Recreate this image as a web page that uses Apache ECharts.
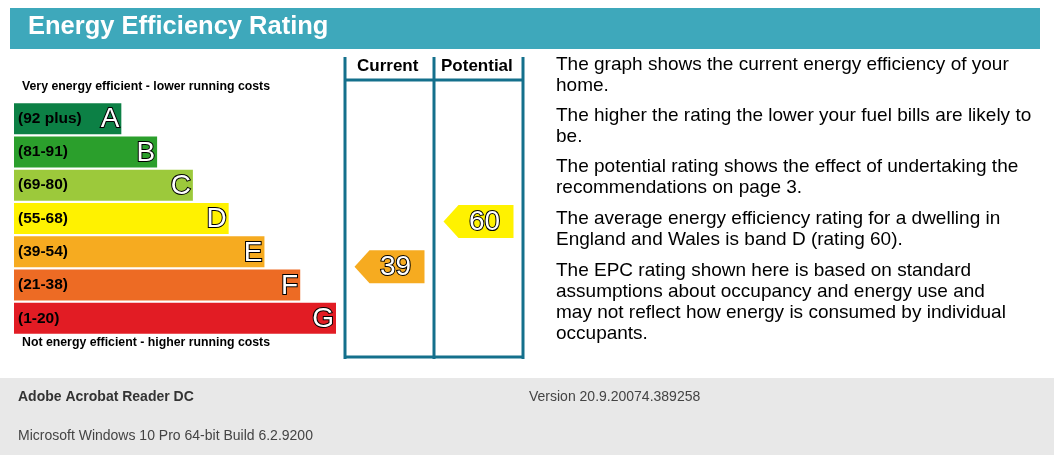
<!DOCTYPE html>
<html><head><meta charset="utf-8">
<script src="https://cdn.jsdelivr.net/npm/echarts@6/dist/echarts.min.js"></script>
<style>html,body{margin:0;padding:0;background:#fff}#c{width:1054px;height:455px}</style>
</head><body><div id="c"></div>
<script>
const bands = ['A','B','C','D','E','F','G'];
const ranges = ['(92 plus)','(81-91)','(69-80)','(55-68)','(39-54)','(21-38)','(1-20)'];
const barLengths = [3,4,5,6,7,8,9];
const bandColors = ['#0c8045','#2b9f2c','#9cc93b','#fff200','#f6ab20','#ed6b24','#e21c24'];
const columns = ['Current','Potential'];
const ratings = [39,60];
const ratingColors = ['#f6ab20','#fff200'];
const infoLines = [
 ['The graph shows the current energy efficiency of your','home.'],
 ['The higher the rating the lower your fuel bills are likely to','be.'],
 ['The potential rating shows the effect of undertaking the','recommendations on page 3.'],
 ['The average energy efficiency rating for a dwelling in','England and Wales is band D (rating 60).'],
 ['The EPC rating shown here is based on standard','assumptions about occupancy and energy use and','may not reflect how energy is consumed by individual','occupants.']
];
const paraTops = [55,106,157,209,261];

const F = 'Liberation Sans, Arial, sans-serif';
const chart = echarts.init(document.getElementById('c'));
const frame = '#14708c';
const graphic = [
 {type:'rect',shape:{x:10,y:8,width:1030,height:41},style:{fill:'#3ea8bb'}},
 {type:'text',x:28,y:14,style:{text:'Energy Efficiency Rating',fill:'#fff',font:'bold 25.5px '+F}},
 {type:'rect',shape:{x:0,y:378,width:1054,height:77},style:{fill:'#e8e8e8'}},
 {type:'text',x:18,y:390,style:{text:'Adobe Acrobat Reader DC',fill:'#333',font:'bold 14px '+F}},
 {type:'text',x:529,y:390,style:{text:'Version 20.9.20074.389258',fill:'#444',font:'14px '+F}},
 {type:'text',x:18,y:429,style:{text:'Microsoft Windows 10 Pro 64-bit Build 6.2.9200',fill:'#444',font:'14px '+F}},
 {type:'text',x:22,y:81,style:{text:'Very energy efficient - lower running costs',fill:'#000',font:'bold 12.3px '+F}},
 {type:'text',x:22,y:337,style:{text:'Not energy efficient - higher running costs',fill:'#000',font:'bold 12.3px '+F}},
 {type:'text',x:357,y:58,style:{text:'Current',fill:'#000',font:'bold 17px '+F}},
 {type:'text',x:441,y:58,style:{text:'Potential',fill:'#000',font:'bold 17px '+F}},
];
[[345,57,345,359],[434,57,434,359],[523,57,523,359],[345,80,523,80],[345,357,523,357]].forEach(l=>{
 graphic.push({type:'line',shape:{x1:l[0],y1:l[1],x2:l[2],y2:l[3]},style:{stroke:frame,lineWidth:3}});
});
infoLines.forEach((p,i)=>p.forEach((t,j)=>graphic.push({type:'text',x:556,y:paraTops[i]+j*21,style:{text:t,fill:'#000',font:'19px '+F}})));

const letterStyle = {color:'#fff',textBorderColor:'#000',textBorderWidth:2,fontSize:28,fontFamily:F};
chart.setOption({
 animation:false,
 graphic,
 grid:[{left:14,top:102,width:322,height:233},{left:345,top:102,width:178,height:233}],
 xAxis:[{type:'value',min:0,max:9,show:false,gridIndex:0},
        {type:'category',data:columns,show:false,gridIndex:1}],
 yAxis:[{type:'category',data:bands,inverse:true,show:false,gridIndex:0},
        {type:'value',min:7.3,max:115.5,show:false,gridIndex:1}],
 series:[
  {type:'bar',xAxisIndex:0,yAxisIndex:0,barWidth:31,
   data:barLengths.map((v,i)=>({value:v,itemStyle:{color:bandColors[i]}})),
   label:{show:true,position:'insideLeft',offset:[-1,0],fontWeight:'bold',fontSize:15.5,fontFamily:F,
     formatter:p=>ranges[p.dataIndex],color:'#000'}},
  {type:'bar',xAxisIndex:0,yAxisIndex:0,barWidth:31,barGap:'-100%',
   data:barLengths,itemStyle:{color:'transparent'},
   label:Object.assign({show:true,position:'insideRight',offset:[3,1],formatter:p=>bands[p.dataIndex]},letterStyle)},
  {type:'scatter',xAxisIndex:1,yAxisIndex:1,
   symbol:'path://M0,16.5 L15,0 L70,0 L70,33 L15,33 Z',symbolSize:[70,33],
   data:ratings.map((r,i)=>({value:[columns[i],r],itemStyle:{color:ratingColors[i],opacity:1}})),
   label:Object.assign({show:true,position:'inside',offset:[6,1],formatter:p=>String(p.value[1])},letterStyle)}
 ]
});
</script></body></html>
